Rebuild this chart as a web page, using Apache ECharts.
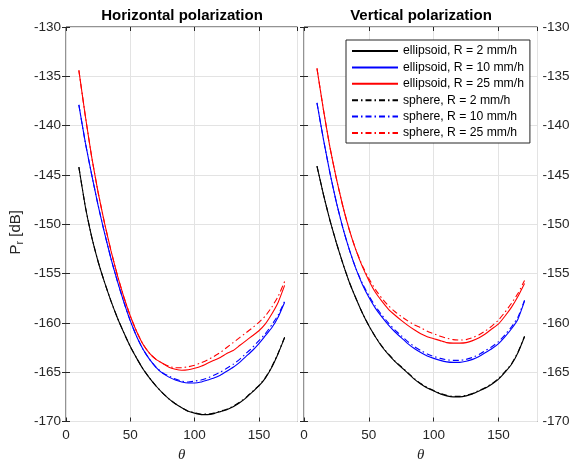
<!DOCTYPE html>
<html>
<head>
<meta charset="utf-8">
<title>Received power vs theta</title>
<script src="https://cdn.jsdelivr.net/npm/echarts@6/dist/echarts.min.js"></script>
<style>
  html, body { margin: 0; padding: 0; background: #fff; }
  #chart { width: 569px; height: 460px; }
</style>
</head>
<body>
<div id="chart"></div>
<script>
// scattering angle (deg)
var theta = [10, 15, 20, 25, 30, 35, 40, 45, 50, 55, 60, 65, 70, 75, 80, 85, 90,
  95, 100, 105, 110, 115, 120, 125, 130, 135, 140, 145, 150, 155, 160, 165, 170]

var seriesNames = ['ellipsoid, R = 2 mm/h', 'ellipsoid, R = 10 mm/h', 'ellipsoid, R = 25 mm/h',
  'sphere, R = 2 mm/h', 'sphere, R = 10 mm/h', 'sphere, R = 25 mm/h']

var xTicks = [0, 50, 100, 150]
var yTicks = [-170, -165, -160, -155, -150, -145, -140, -135, -130]

// Horizontal polarization, Pr [dB]
var hEll2 = [-144.2, -148.2, -151.3, -153.8, -155.9, -157.8, -159.5, -161.0, -162.4, -163.6, -164.7,
  -165.6, -166.4, -167.1, -167.7, -168.2, -168.6, -168.95, -169.15, -169.3, -169.3, -169.2, -169.0,
  -168.8, -168.5, -168.1, -167.6, -167.0, -166.4, -165.6, -164.5, -163.1, -161.5]
var hEll10 = [-137.9, -141.7, -145.0, -148.1, -150.9, -153.5, -155.8, -157.9, -159.8, -161.4, -162.7,
  -163.7, -164.5, -165.1, -165.5, -165.8, -166.0, -166.1, -166.1, -166.0, -165.8, -165.6, -165.3,
  -164.9, -164.5, -164.0, -163.4, -162.8, -162.1, -161.3, -160.5, -159.4, -157.9]
var hEll25 = [-134.4, -139.0, -143.2, -146.8, -149.9, -152.7, -155.2, -157.4, -159.3, -160.9, -162.2,
  -163.1, -163.7, -164.1, -164.5, -164.7, -164.8, -164.75, -164.6, -164.4, -164.1, -163.8, -163.5,
  -163.1, -162.8, -162.3, -161.8, -161.3, -160.8, -160.1, -159.1, -157.9, -156.2]
var hSph2 = [-144.2, -148.2, -151.3, -153.8, -155.9, -157.8, -159.5, -161.0, -162.4, -163.6, -164.7,
  -165.6, -166.4, -167.1, -167.7, -168.2, -168.6, -168.95, -169.1, -169.25, -169.25, -169.15, -168.95,
  -168.75, -168.45, -168.05, -167.55, -166.95, -166.35, -165.55, -164.45, -163.05, -161.45]
var hSph10 = [-137.9, -141.7, -145.0, -148.1, -150.9, -153.5, -155.8, -157.9, -159.8, -161.4, -162.7,
  -163.7, -164.5, -165.05, -165.4, -165.7, -165.9, -166.0, -165.9, -165.8, -165.6, -165.3, -165.0,
  -164.6, -164.2, -163.7, -163.1, -162.5, -161.8, -161.1, -160.2, -159.2, -157.8]
var hSph25 = [-134.4, -139.0, -143.2, -146.8, -149.9, -152.7, -155.2, -157.4, -159.3, -160.9, -162.2,
  -163.1, -163.7, -164.1, -164.4, -164.55, -164.55, -164.45, -164.3, -164.05, -163.75, -163.4, -163.0,
  -162.5, -162.0, -161.5, -161.0, -160.5, -159.95, -159.3, -158.4, -157.3, -155.8]

// Vertical polarization, Pr [dB]
var vEll2 = [-144.1, -147.0, -149.6, -151.9, -154.0, -155.9, -157.5, -159.0, -160.3, -161.4, -162.4,
  -163.2, -163.9, -164.5, -165.1, -165.7, -166.2, -166.6, -166.9, -167.2, -167.4, -167.5, -167.5,
  -167.4, -167.2, -166.9, -166.6, -166.2, -165.7, -165.0, -164.2, -163.0, -161.4]
var vEll10 = [-137.7, -141.4, -144.8, -147.8, -150.4, -152.6, -154.5, -156.1, -157.4, -158.5, -159.4,
  -160.2, -160.9, -161.5, -162.1, -162.6, -163.0, -163.35, -163.6, -163.8, -163.95, -164.0, -164.0,
  -163.9, -163.7, -163.4, -163.0, -162.6, -162.1, -161.4, -160.6, -159.6, -157.8]
var vEll25 = [-134.2, -138.4, -142.2, -145.4, -148.2, -150.6, -152.6, -154.3, -155.7, -156.9, -157.8,
  -158.6, -159.2, -159.75, -160.25, -160.7, -161.1, -161.4, -161.6, -161.8, -162.0, -162.05, -162.05,
  -162.0, -161.8, -161.5, -161.1, -160.6, -160.1, -159.3, -158.4, -157.3, -156.0]
var vSph2 = [-144.1, -147.0, -149.6, -151.9, -154.0, -155.9, -157.5, -159.0, -160.3, -161.4, -162.35,
  -163.15, -163.85, -164.45, -165.05, -165.65, -166.15, -166.55, -166.85, -167.15, -167.35, -167.45, -167.45,
  -167.35, -167.15, -166.85, -166.55, -166.15, -165.65, -164.95, -164.15, -162.95, -161.35]
var vSph10 = [-137.7, -141.4, -144.8, -147.8, -150.4, -152.6, -154.5, -156.0, -157.25, -158.3, -159.2,
  -160.0, -160.7, -161.3, -161.9, -162.4, -162.8, -163.15, -163.4, -163.6, -163.75, -163.8, -163.8,
  -163.7, -163.5, -163.2, -162.8, -162.4, -161.9, -161.2, -160.4, -159.4, -157.7]
var vSph25 = [-134.2, -138.4, -142.2, -145.4, -148.2, -150.6, -152.6, -154.2, -155.5, -156.6, -157.5,
  -158.25, -158.85, -159.35, -159.8, -160.2, -160.5, -160.85, -161.1, -161.35, -161.55, -161.7, -161.75,
  -161.7, -161.5, -161.2, -160.8, -160.3, -159.7, -158.9, -158.0, -157.0, -155.7]

var FONT = '"Liberation Sans", Arial, Helvetica, sans-serif'
var AXIS_COLOR = '#262626'
var colors = ['#000000', '#0000ff', '#ff0000', '#000000', '#0000ff', '#ff0000']
var dashDot = [6, 3, 1.5, 3]

function pairs(xs, ys) {
  var out = []
  for (var i = 0; i < xs.length; i++) out.push([xs[i], ys[i]])
  return out
}

function makeSeries(panel, list) {
  var res = []
  for (var i = 0; i < list.length; i++) {
    res.push({
      name: seriesNames[i],
      type: 'line',
      xAxisIndex: panel,
      yAxisIndex: panel,
      data: pairs(theta, list[i]),
      symbol: 'none',
      showSymbol: false,
      smooth: 0.15,
      z: 2 + i,
      lineStyle: { color: colors[i], width: 1.1, type: i < 3 ? 'solid' : dashDot },
      itemStyle: { color: colors[i] }
    })
  }
  return res
}

function xAxisFor(grid, onTop) {
  return {
    type: 'value',
    gridIndex: grid,
    position: onTop ? 'top' : 'bottom',
    min: 0,
    max: 180,
    interval: 50,
    name: onTop ? '' : 'θ',
    nameLocation: 'middle',
    nameGap: 23,
    nameTextStyle: { fontFamily: '"Liberation Serif", "DejaVu Serif", serif', fontStyle: 'italic', fontSize: 15, color: AXIS_COLOR },
    axisLine: { show: false },
    axisTick: { show: true, inside: true, length: 4, lineStyle: { color: AXIS_COLOR } },
    axisLabel: {
      show: !onTop, margin: 7, fontSize: 13.5, fontFamily: FONT, color: AXIS_COLOR,
      showMaxLabel: false,
      formatter: function(v) { return xTicks.indexOf(v) >= 0 ? String(v) : '' }
    },
    splitLine: { show: !onTop, lineStyle: { color: '#e3e3e3', width: 1 } }
  }
}

function yAxisFor(grid, side, labelled) {
  return {
    type: 'value',
    gridIndex: grid,
    position: side,
    min: yTicks[0],
    max: yTicks[yTicks.length - 1],
    interval: 5,
    name: labelled && side === 'left' ? '{p|P}{s|r}{p| [dB]}' : '',
    nameLocation: 'middle',
    nameGap: 40,
    nameRotate: 90,
    nameTextStyle: {
      color: AXIS_COLOR,
      padding: [0, 16, 0, 0],
      rich: {
        p: { fontFamily: FONT, fontSize: 15, color: AXIS_COLOR },
        s: { fontFamily: FONT, fontSize: 10.5, color: AXIS_COLOR, padding: [10, 0, 0, 0] }
      }
    },
    axisLine: { show: false },
    axisTick: { show: true, inside: true, length: 4, lineStyle: { color: AXIS_COLOR } },
    axisLabel: { show: labelled, margin: 5, fontSize: 13.5, fontFamily: FONT, color: AXIS_COLOR },
    splitLine: { show: labelled, lineStyle: { color: '#e3e3e3', width: 1 } }
  }
}

var chart = echarts.init(document.getElementById('chart'), null, { renderer: 'canvas' })

var gridBox = {
  show: true, borderColor: AXIS_COLOR, borderWidth: 1, backgroundColor: 'transparent',
  containLabel: false, outerBoundsMode: 'none'
}

chart.setOption({
  animation: false,
  backgroundColor: '#ffffff',
  textStyle: { fontFamily: FONT },
  graphic: [
    { type: 'text', x: 182, y: 16, style: { text: 'Horizontal polarization', font: 'bold 15px ' + FONT, fill: '#000', align: 'center', verticalAlign: 'middle' } },
    { type: 'text', x: 421, y: 16, style: { text: 'Vertical polarization', font: 'bold 15px ' + FONT, fill: '#000', align: 'center', verticalAlign: 'middle' } }
  ],
  legend: {
    data: seriesNames,
    orient: 'vertical',
    left: 346,
    top: 40,
    itemWidth: 46,
    itemHeight: 14,
    itemGap: 2.4,
    padding: [4, 6, 3, 5],
    selectedMode: false,
    backgroundColor: '#ffffff',
    borderColor: AXIS_COLOR,
    borderWidth: 1,
    borderRadius: 0,
    itemStyle: { opacity: 0 },
    textStyle: { fontFamily: FONT, fontSize: 12.2, color: '#000', lineHeight: 14 }
  },
  grid: [
    Object.assign({ left: 66, top: 27, width: 231.5, height: 394.5 }, gridBox),
    Object.assign({ left: 304, top: 27, width: 233.5, height: 394.5 }, gridBox)
  ],
  xAxis: [xAxisFor(0, false), xAxisFor(1, false), xAxisFor(0, true), xAxisFor(1, true)],
  yAxis: [yAxisFor(0, 'left', true), yAxisFor(1, 'right', true), yAxisFor(0, 'right', false), yAxisFor(1, 'left', false)],
  series: makeSeries(0, [hEll2, hEll10, hEll25, hSph2, hSph10, hSph25])
    .concat(makeSeries(1, [vEll2, vEll10, vEll25, vSph2, vSph10, vSph25]))
})
</script>
</body>
</html>
